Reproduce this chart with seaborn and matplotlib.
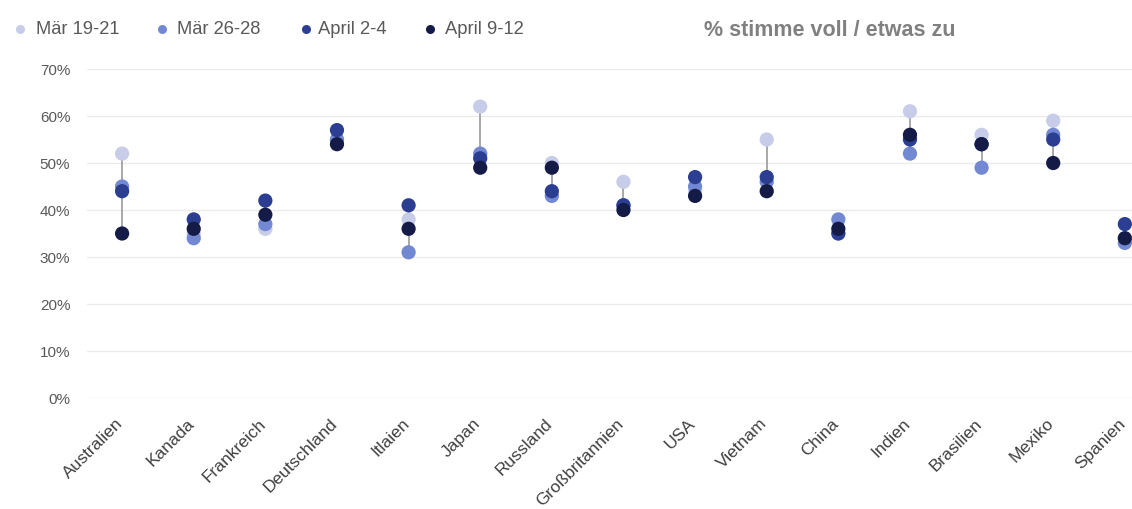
import matplotlib
matplotlib.use("Agg")
import matplotlib.pyplot as plt
import matplotlib.transforms as mtransforms
import seaborn as sns
import pandas as pd
import numpy as np

countries = ["Australien", "Kanada", "Frankreich", "Deutschland", "Itlaien", "Japan",
             "Russland", "Großbritannien", "USA", "Vietnam", "China", "Indien",
             "Brasilien", "Mexiko", "Spanien"]
mar_19_21 = [52, 35, 36, 55, 38, 62, 50, 46, 44, 55, 35, 61, 56, 59, 34]
mar_26_28 = [45, 34, 37, 55, 31, 52, 43, 41, 45, 46, 38, 52, 49, 56, 33]
apr_2_4   = [44, 38, 42, 57, 41, 51, 44, 41, 47, 47, 35, 55, 54, 55, 37]
apr_9_12  = [35, 36, 39, 54, 36, 49, 49, 40, 43, 44, 36, 56, 54, 50, 34]
series_names = ["Mär 19-21", "Mär 26-28", "April 2-4", "April 9-12"]
colors = ["#c7cce9", "#7288d3", "#2c3e91", "#151b47"]
title = "% stimme voll / etwas zu"
yticks = [0, 10, 20, 30, 40, 50, 60, 70]

sns.set_theme(style="white")
plt.rcParams["font.family"] = ["Liberation Sans", "DejaVu Sans"]

wide = pd.DataFrame({"Land": countries, series_names[0]: mar_19_21,
                     series_names[1]: mar_26_28, series_names[2]: apr_2_4,
                     series_names[3]: apr_9_12})
long = wide.melt(id_vars="Land", var_name="Welle", value_name="Wert")

W, H = 1132, 510
fig = plt.figure(figsize=(W / 100, H / 100), dpi=100)
ax = fig.add_axes([87 / W, 1 - 399 / H, (W - 87) / W, (399 - 70) / H])

xpos = np.arange(len(countries))
vals = wide[series_names].to_numpy()
ax.vlines(xpos, vals.min(axis=1), vals.max(axis=1), color="#9a9a9a", lw=1.2, zorder=1)

long["x"] = long["Land"].map({c: i for i, c in enumerate(countries)})
sns.scatterplot(data=long, x="x", y="Wert", hue="Welle", hue_order=series_names,
                palette=colors, s=105, edgecolor="none", linewidth=0, ax=ax,
                legend=False, zorder=3, clip_on=False)

ax.set_xlim(-0.49, 14.1)
ax.set_ylim(0, 70)
ax.set_yticks(yticks)
ax.set_yticklabels([f"{v}%" for v in yticks], color="#595959", fontsize=11)
ax.set_xticks(xpos)
ax.set_xticklabels(countries, rotation=45, ha="right", va="center",
                   rotation_mode="anchor", color="#404040", fontsize=12.5)
ax.tick_params(axis="x", length=0, pad=16)
ax.tick_params(axis="y", length=0, pad=12)
offset = mtransforms.ScaledTranslation(-2 / 100, 0, fig.dpi_scale_trans)
for lab in ax.get_xticklabels():
    lab.set_transform(lab.get_transform() + offset)
ax.grid(axis="y", color="#ebebeb", lw=1)
ax.set_axisbelow(True)
for s in ax.spines.values():
    s.set_visible(False)
ax.set_xlabel("")
ax.set_ylabel("")

# legend
leg_marker_x = [20, 162, 306, 430]
leg_text_x = [36, 177, 318, 445]
for xm, xt, name, c in zip(leg_marker_x, leg_text_x, series_names, colors):
    fig.add_artist(plt.Line2D([xm / W], [1 - 30 / H], marker="o", markersize=6.5,
                              color=c, markeredgewidth=0, linestyle="none",
                              transform=fig.transFigure))
    fig.text(xt / W, 1 - 30 / H, name, fontsize=13.2, color="#595959",
             va="center", ha="left")
fig.text(704 / W, 1 - 30 / H, title, fontsize=15.5, color="#808080",
         fontweight="bold", va="center", ha="left")

fig.savefig("out.png", dpi=100, facecolor="white")
